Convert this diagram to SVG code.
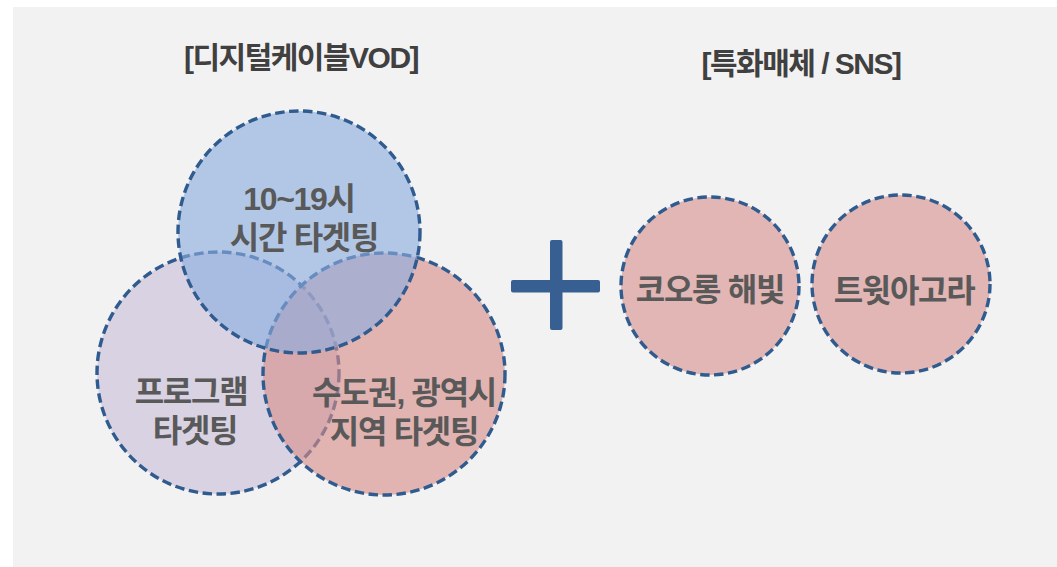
<svg xmlns="http://www.w3.org/2000/svg" width="1057" height="567" viewBox="0 0 1057 567">
  <style>
    .bg { fill: #f2f2f2; }
    .ring { stroke: #2f5b8f; stroke-width: 3.4; stroke-dasharray: 9.5 4.5; }
    .lbl { font-family: "Liberation Sans", "Noto Sans CJK KR", sans-serif; font-weight: 700; font-size: 32px; fill: #595959; text-anchor: middle; letter-spacing: -1.3px; }
    .ttl { font-family: "Liberation Sans", "Noto Sans CJK KR", sans-serif; font-weight: 700; font-size: 30px; fill: #404040; text-anchor: middle; letter-spacing: -1.5px; }
    .plus { fill: #375f92; }
  </style>
  <rect class="bg" x="13" y="7" width="1044" height="560"/>

  <g id="title-vod">
    <text class="ttl" x="301" y="68">[디지털케이블VOD]</text>
  </g>
  <g id="title-sns">
    <text class="ttl" x="801" y="74">[특화매체 / SNS]</text>
  </g>

  <g id="circle-program">
    <circle class="ring" cx="218" cy="373" r="121" fill="#c8bed9" fill-opacity="0.62"/>
  </g>
  <g id="circle-region">
    <circle class="ring" cx="384" cy="374" r="121" fill="#d68e8b" fill-opacity="0.62"/>
  </g>
  <g id="circle-time">
    <circle class="ring" cx="299" cy="232" r="121" fill="#8bacde" fill-opacity="0.62"/>
  </g>
  <g id="labels-venn">
    <text class="lbl" x="299" y="210">10~19시<tspan x="304" dy="39">시간 타겟팅</tspan></text>
    <text class="lbl" x="191" y="403">프로그램<tspan x="195" dy="39">타겟팅</tspan></text>
    <text class="lbl" x="404" y="404">수도권, 광역시<tspan x="404" dy="39">지역 타겟팅</tspan></text>
  </g>

  <g id="plus">
    <rect class="plus" x="511" y="280" width="89" height="12.5" rx="2"/>
    <rect class="plus" x="550" y="240" width="12.5" height="90" rx="2"/>
  </g>

  <g id="circle-kolon">
    <circle class="ring" cx="710" cy="286" r="89" fill="#e1b6b4"/>
    <text class="lbl" x="710" y="301">코오롱 해빛</text>
  </g>
  <g id="circle-agora">
    <circle class="ring" cx="901" cy="284" r="89" fill="#e1b6b4"/>
    <text class="lbl" x="904" y="302">트윗아고라</text>
  </g>
</svg>
